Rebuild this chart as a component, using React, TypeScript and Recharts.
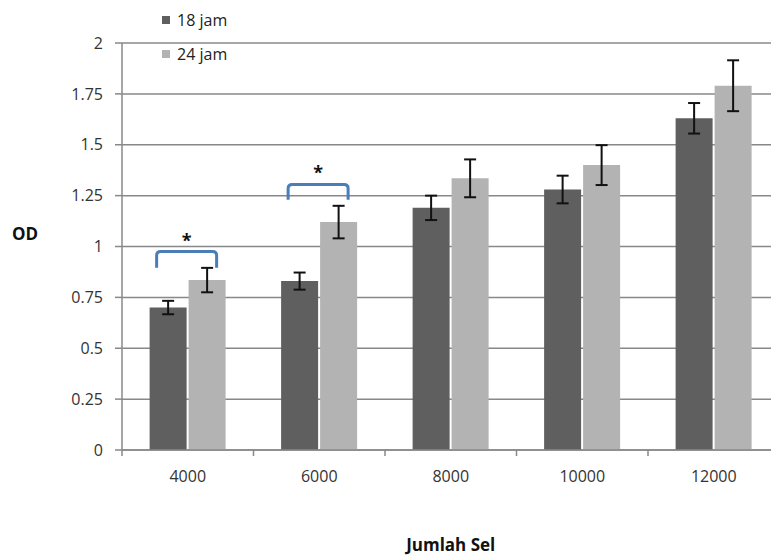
import React from 'react';
import {
  BarChart,
  Bar,
  XAxis,
  YAxis,
  CartesianGrid,
  ErrorBar,
  Legend,
  LabelList,
} from 'recharts';

const categories = ['4000', '6000', '8000', '10000', '12000'];
const od18 = [0.7, 0.83, 1.19, 1.28, 1.63];
const od24 = [0.835, 1.12, 1.335, 1.4, 1.79];
const err18 = [0.033, 0.042, 0.06, 0.068, 0.075];
const err24 = [0.06, 0.08, 0.093, 0.098, 0.125];
// significance brackets (null = none)
const sigTop = [0.975, 1.305, null, null, null];
const sigBase = [0.895, 1.23, null, null, null];
const sigStar = [1.05, 1.385, null, null, null];
const yTicks = [0, 0.25, 0.5, 0.75, 1, 1.25, 1.5, 1.75, 2];

const data = categories.map((sel, i) => ({
  sel,
  h18: od18[i],
  h24: od24[i],
  e18: err18[i],
  e24: err24[i],
}));

const FONT = "'Open Sans', 'DejaVu Sans', sans-serif";
const DARK = '#5f5f5f';
const LIGHT = '#b3b3b3';
const GRID = '#888888';

const CategoryTick = (props: any) => {
  const { x, y, payload } = props;
  const half = payload && payload.offset != null ? payload.offset : 65.75;
  // y comes in below the axis by tickSize + tickMargin
  const axisY = y - 11;
  return (
    <g>
      <line x1={x - half} y1={axisY} x2={x - half} y2={axisY + 6} stroke={GRID} strokeWidth={1.5} />
      <text x={x} y={axisY + 32} textAnchor="middle" fill="#333" fontSize={16} fontFamily={FONT}>
        {payload.value}
      </text>
    </g>
  );
};

const Bracket = (props: any) => {
  const { x, y, width, height, value, index } = props;
  const top = sigTop[index];
  const base = sigBase[index];
  const star = sigStar[index];
  if (top == null || base == null || star == null || !value) return null;
  const zeroY = y + height;
  const pxPer = height / value;
  const yTop = zeroY - top * pxPer;
  const yBase = zeroY - base * pxPer;
  const yStar = zeroY - star * pxPer;
  const left = x - 2 - width + 7;
  const right = x + width - 9;
  const r = 4;
  const d = `M${left},${yBase} L${left},${yTop + r} Q${left},${yTop} ${left + r},${yTop} L${right - r},${yTop} Q${right},${yTop} ${right},${yTop + r} L${right},${yBase}`;
  return (
    <g>
      <path d={d} fill="none" stroke="#4a7ebb" strokeWidth={3} />
      <text x={(left + right) / 2} y={yStar} dy="0.6em" textAnchor="middle" fontSize={18} fontWeight={700} fill="#111" fontFamily={FONT}>
        *
      </text>
    </g>
  );
};

const LegendBox = () => (
  <div style={{ fontFamily: FONT, fontSize: 16, color: '#222', lineHeight: '20px' }}>
    {[
      { name: '18 jam', color: DARK },
      { name: '24 jam', color: LIGHT },
    ].map((it, i) => (
      <div key={it.name} style={{ display: 'flex', alignItems: 'center', height: 20, marginBottom: i === 0 ? 14 : 0 }}>
        <span style={{ display: 'inline-block', width: 8, height: 8, background: it.color, marginRight: 7 }} />
        <span>{it.name}</span>
      </div>
    ))}
  </div>
);

export default function App() {
  return (
    <div style={{ position: 'absolute', left: 0, top: 0, width: 771, height: 558, overflow: 'hidden', background: '#fff' }}>
      <BarChart
        width={800}
        height={558}
        data={data}
        margin={{ top: 43, right: 20.5, left: 0, bottom: 0 }}
        barCategoryGap="21%"
        barGap={2}
      >
        <CartesianGrid vertical={false} stroke={GRID} strokeWidth={1.5} />
        <XAxis
          dataKey="sel"
          height={108}
          axisLine={{ stroke: GRID, strokeWidth: 1.5 }}
          tickLine={false}
          tickMargin={5}
          tick={<CategoryTick />}
          label={{ value: 'Jumlah Sel', position: 'insideBottom', offset: 7, fill: '#111', fontSize: 17, fontWeight: 700, fontFamily: FONT }}
        />
        <YAxis
          width={122}
          domain={[0, 2]}
          ticks={yTicks}
          axisLine={{ stroke: GRID, strokeWidth: 1.5 }}
          tickLine={{ stroke: GRID, strokeWidth: 1.5 }}
          tickSize={7}
          tickMargin={12}
          tick={{ fill: '#333', fontSize: 16, fontFamily: FONT }}
          label={{ value: 'OD', position: 'insideLeft', offset: 12, dy: -13, fill: '#111', fontSize: 17, fontWeight: 700, fontFamily: FONT }}
        />
        <Legend
          layout="vertical"
          align="center"
          verticalAlign="middle"
          content={<LegendBox />}
          wrapperStyle={{ position: 'absolute', top: 10, left: 162, width: 120 }}
        />
        <Bar dataKey="h18" name="18 jam" fill={DARK} isAnimationActive={false}>
          <ErrorBar dataKey="e18" width={6} stroke="#111" strokeWidth={2} />
        </Bar>
        <Bar dataKey="h24" name="24 jam" fill={LIGHT} isAnimationActive={false}>
          <ErrorBar dataKey="e24" width={6} stroke="#111" strokeWidth={2} />
          <LabelList dataKey="h24" content={<Bracket />} />
        </Bar>
      </BarChart>
    </div>
  );
}
